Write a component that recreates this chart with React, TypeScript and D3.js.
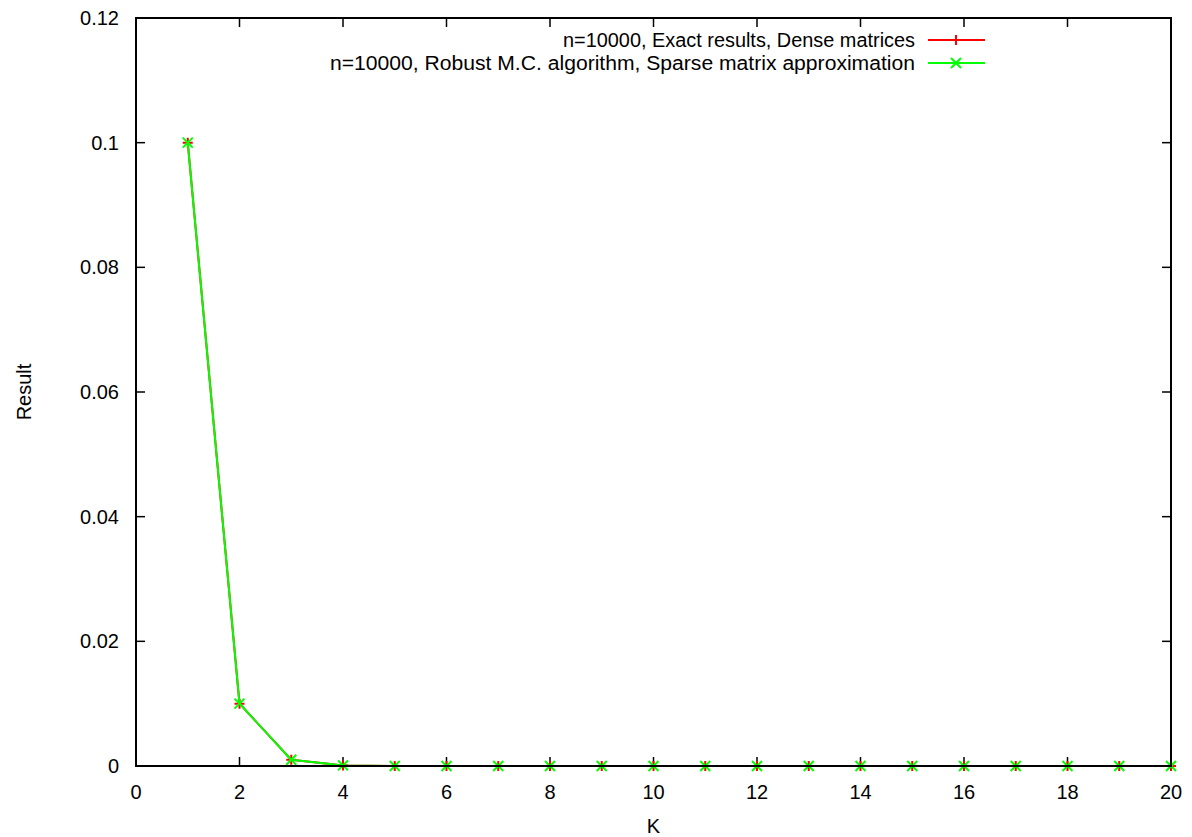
import * as d3 from "d3";

// K values and results (both runs agree)
const kValues = [1, 2, 3, 4, 5, 6, 7, 8, 9, 10, 11, 12, 13, 14, 15, 16, 17, 18, 19, 20];
const exactResults = [0.1, 0.01, 0.001, 0.0001, 0.00001, 0.000001, 0, 0, 0, 0, 0, 0, 0, 0, 0, 0, 0, 0, 0, 0];
const robustResults = [0.1, 0.01, 0.001, 0.0001, 0.00001, 0.000001, 0, 0, 0, 0, 0, 0, 0, 0, 0, 0, 0, 0, 0, 0];
const xTicks = [0, 2, 4, 6, 8, 10, 12, 14, 16, 18, 20];
const yTicks = [0, 0.02, 0.04, 0.06, 0.08, 0.1, 0.12];
const seriesNames = [
  "n=10000, Exact results, Dense matrices",
  "n=10000, Robust M.C. algorithm, Sparse matrix approximation",
];

export default function App() {
  const W = 1192;
  const H = 837;
  const left = 136, right = 1171, top = 18, bottom = 766;
  const x = d3.scaleLinear().domain([0, 20]).range([left, right]);
  const y = d3.scaleLinear().domain([0, 0.12]).range([bottom, top]);
  const tick = 9;
  const fs = 20;
  const font = "Liberation Sans, Arial, sans-serif";

  const line = d3
    .line<number>()
    .x((_, i) => x(kValues[i]))
    .y((d) => y(d));

  const series = [
    { values: exactResults, color: "#ff0000", mark: "plus", textLen: 352 },
    { values: robustResults, color: "#00ff00", mark: "cross", textLen: 585 },
  ];

  const marker = (mark: string, cx: number, cy: number, color: string, s = 5) =>
    mark === "plus" ? (
      <path d={`M${cx - s},${cy}H${cx + s}M${cx},${cy - s}V${cy + s}`} stroke={color} strokeWidth={2} />
    ) : (
      <path
        d={`M${cx - s},${cy - s}L${cx + s},${cy + s}M${cx - s},${cy + s}L${cx + s},${cy - s}`}
        stroke={color}
        strokeWidth={2}
      />
    );

  return (
    <svg width={W} height={H} style={{ position: "absolute", left: 0, top: 0 }} fontFamily={font}>
      <rect width={W} height={H} fill="white" />
      {/* ticks */}
      {xTicks.map((t) => (
        <g key={"x" + t}>
          <line x1={x(t)} x2={x(t)} y1={bottom} y2={bottom - tick} stroke="black" strokeWidth={1.5} />
          <line x1={x(t)} x2={x(t)} y1={top} y2={top + tick} stroke="black" strokeWidth={1.5} />
          <text x={x(t)} y={bottom + 33} textAnchor="middle" fontSize={fs}>
            {t}
          </text>
        </g>
      ))}
      {yTicks.map((t) => (
        <g key={"y" + t}>
          <line x1={left} x2={left + tick} y1={y(t)} y2={y(t)} stroke="black" strokeWidth={1.5} />
          <line x1={right} x2={right - tick} y1={y(t)} y2={y(t)} stroke="black" strokeWidth={1.5} />
          <text x={left - 17} y={y(t) + 7} textAnchor="end" fontSize={fs}>
            {t === 0 ? "0" : d3.format(".2~f")(t)}
          </text>
        </g>
      ))}
      {/* data */}
      {series.map((s, si) => (
        <g key={si}>
          <path d={line(s.values) || ""} fill="none" stroke={s.color} strokeWidth={2} />
          {s.values.map((v, i) => (
            <g key={i}>{marker(s.mark, x(kValues[i]), y(v), s.color)}</g>
          ))}
        </g>
      ))}
      {/* frame */}
      <rect x={left} y={top} width={right - left} height={bottom - top} fill="none" stroke="black" strokeWidth={2} />
      {/* legend */}
      {series.map((s, i) => {
        const ly = 40 + i * 23;
        return (
          <g key={"l" + i}>
            <text
              x={915 - s.textLen}
              y={ly + 7}
              textAnchor="start"
              fontSize={fs}
              textLength={s.textLen}
              lengthAdjust="spacingAndGlyphs"
            >
              {seriesNames[i]}
            </text>
            <line x1={928} x2={985} y1={ly} y2={ly} stroke={s.color} strokeWidth={2} />
            {marker(s.mark, 956, ly, s.color)}
          </g>
        );
      })}
      {/* axis labels */}
      <text x={(left + right) / 2} y={833} textAnchor="middle" fontSize={fs}>
        K
      </text>
      <text transform={`translate(31,${(top + bottom) / 2}) rotate(-90)`} textAnchor="middle" fontSize={fs}>
        Result
      </text>
    </svg>
  );
}
